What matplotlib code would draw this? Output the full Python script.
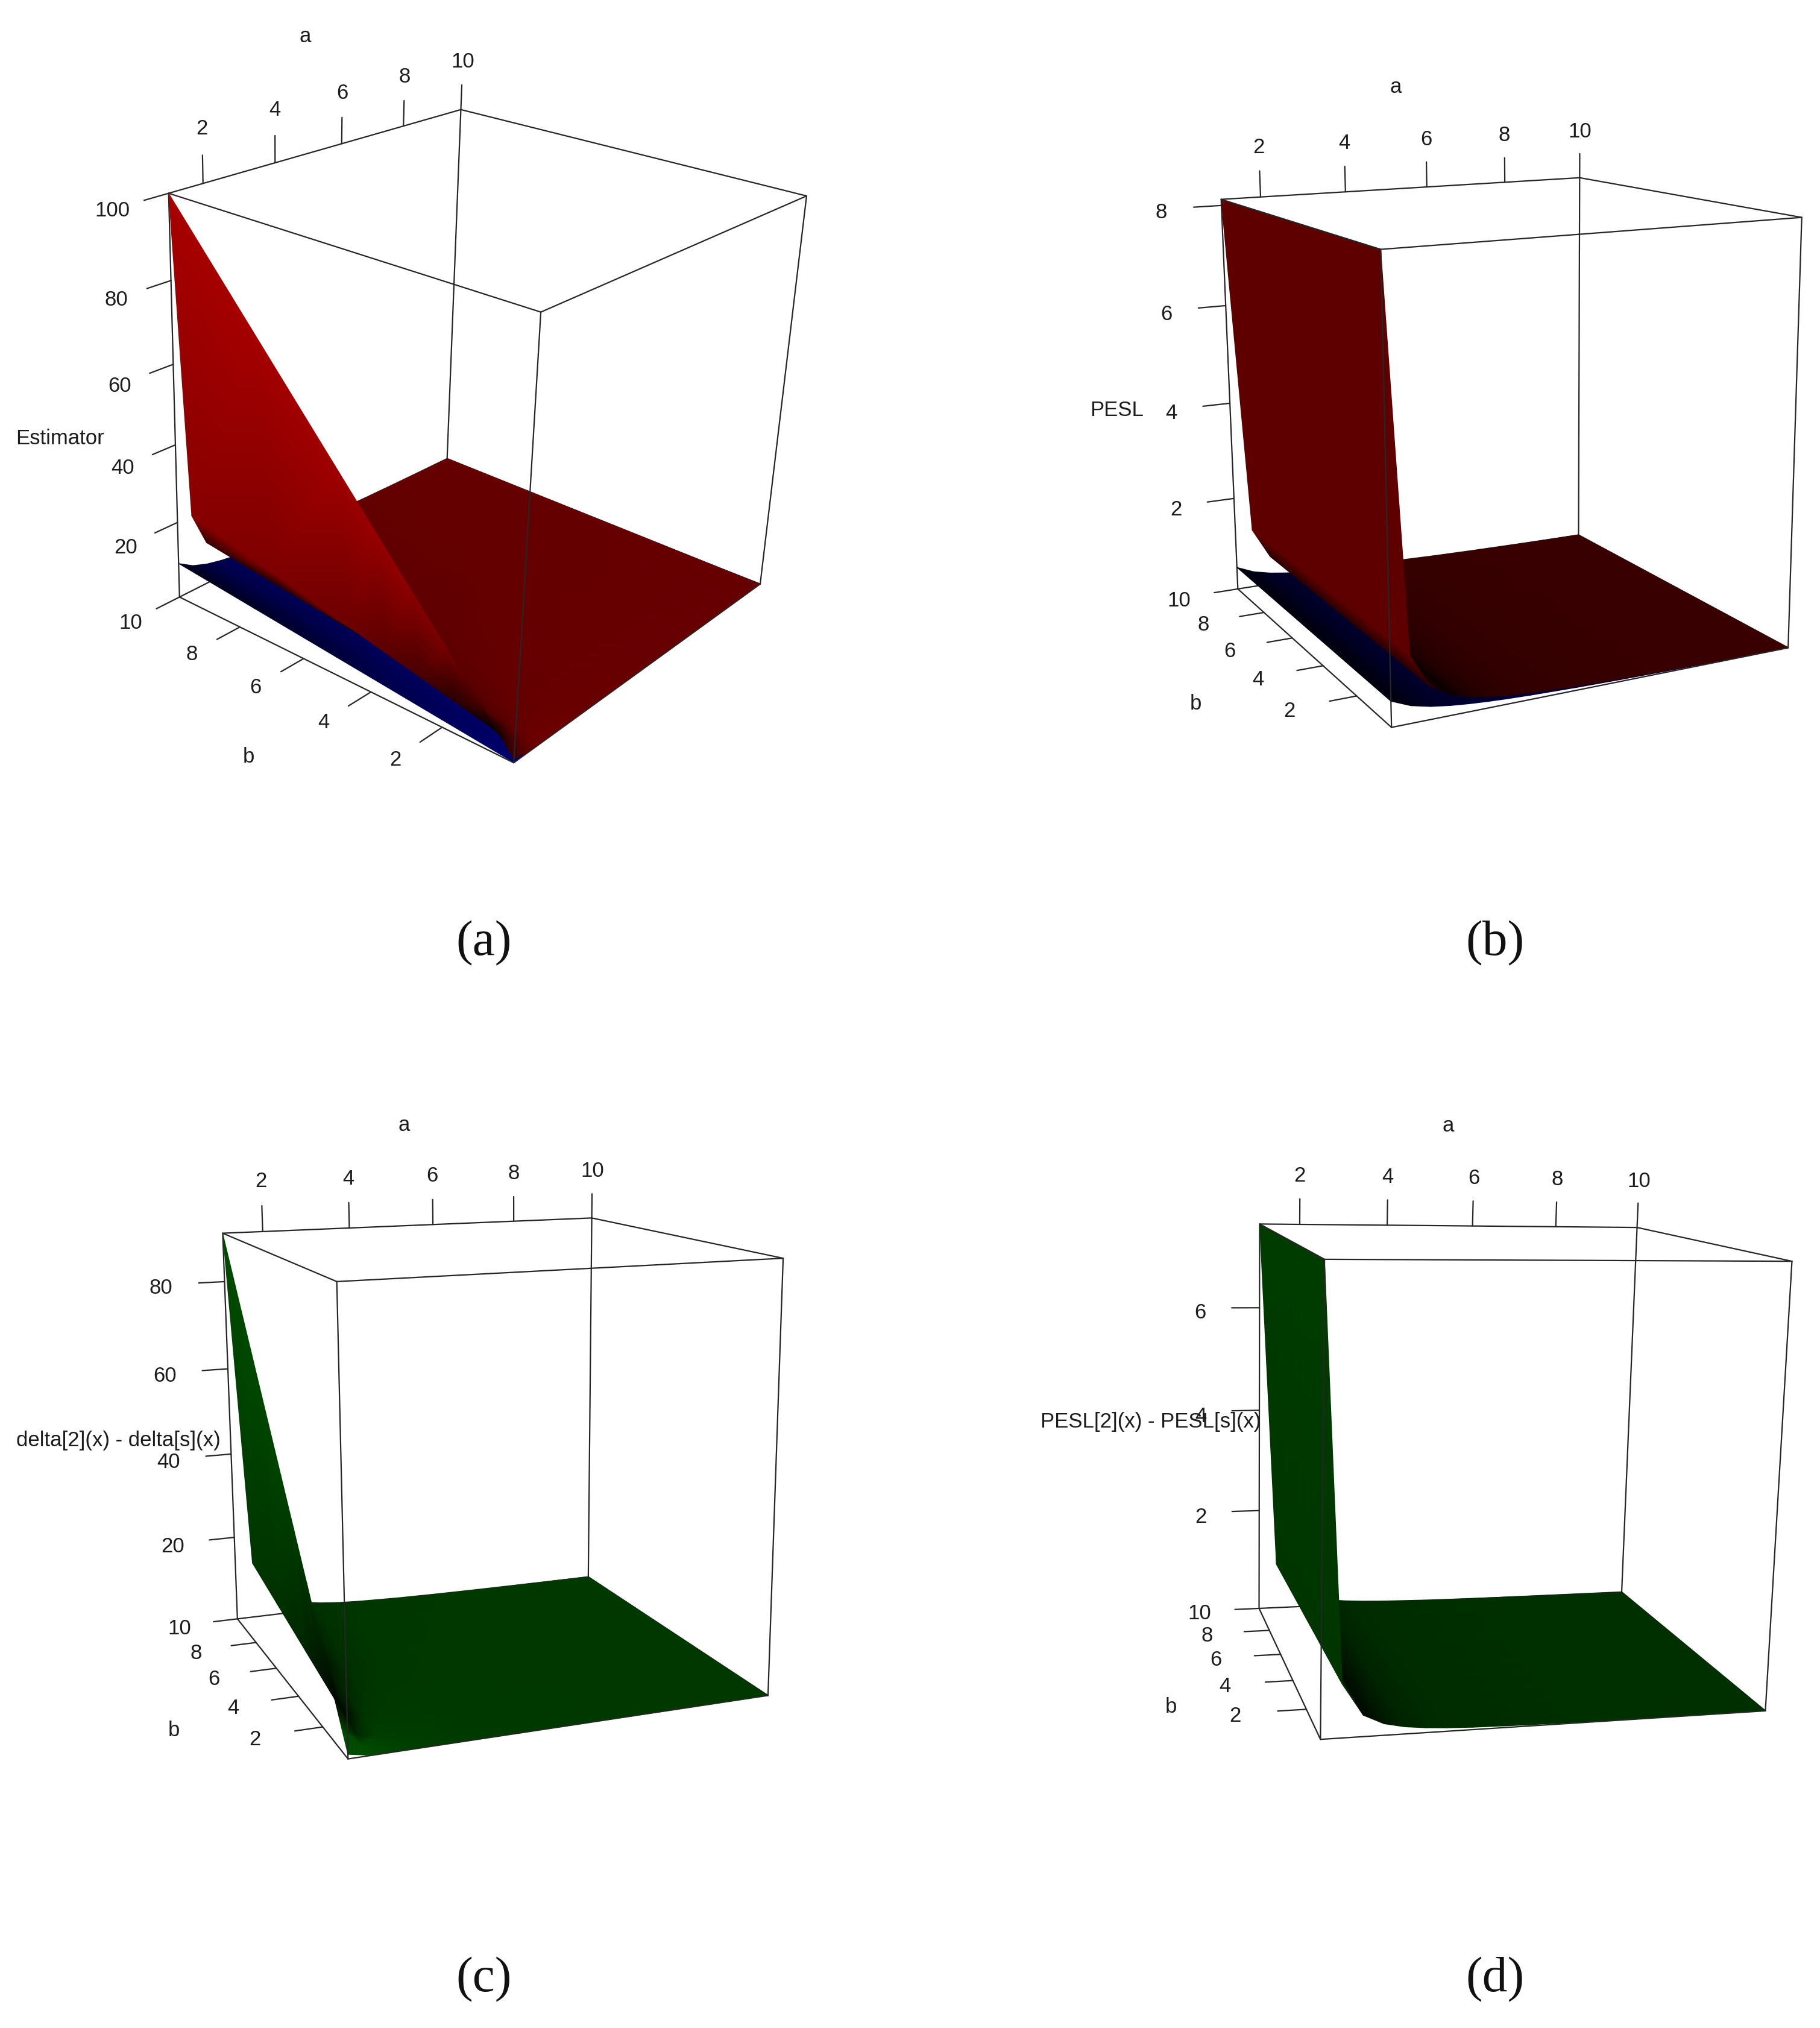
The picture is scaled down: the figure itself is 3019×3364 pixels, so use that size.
import numpy as np
import matplotlib
matplotlib.use("Agg")
import matplotlib.pyplot as plt
from matplotlib.colors import LinearSegmentedColormap
from matplotlib.tri import Triangulation

# ---------- data ----------
a_grid = [1.1, 1.5, 1.9, 2.3, 2.7, 3.1, 3.5, 4, 5, 6, 7, 8, 9, 10]
b_grid = [0.1, 0.5, 1, 2, 3, 4, 5, 7.5, 10]
a_ticks = [2, 4, 6, 8, 10]
b_ticks = [2, 4, 6, 8, 10]

est_red = [[1, 5, 10, 20, 30, 40, 50, 75, 100],
           [.2, 1, 2, 4, 6, 8, 10, 15, 20],
           [.111, .556, 1.11, 2.22, 3.33, 4.44, 5.56, 8.33, 11.11],
           [.077, .385, .769, 1.54, 2.31, 3.08, 3.85, 5.77, 7.69],
           [.059, .294, .588, 1.18, 1.76, 2.35, 2.94, 4.41, 5.88],
           [.048, .238, .476, .952, 1.43, 1.90, 2.38, 3.57, 4.76],
           [.04, .2, .4, .8, 1.2, 1.6, 2, 3, 4],
           [.033, .167, .333, .667, 1, 1.33, 1.67, 2.5, 3.33],
           [.025, .125, .25, .5, .75, 1, 1.25, 1.875, 2.5],
           [.02, .1, .2, .4, .6, .8, 1, 1.5, 2],
           [.017, .083, .167, .333, .5, .667, .833, 1.25, 1.67],
           [.014, .071, .143, .286, .429, .571, .714, 1.07, 1.43],
           [.0125, .0625, .125, .25, .375, .5, .625, .9375, 1.25],
           [.011, .056, .111, .222, .333, .444, .556, .833, 1.11]]
est_blue = [[.091, .455, .909, 1.82, 2.73, 3.64, 4.55, 6.82, 9.09],
            [.067, .333, .667, 1.33, 2, 2.67, 3.33, 5, 6.67],
            [.053, .263, .526, 1.05, 1.58, 2.11, 2.63, 3.95, 5.26],
            [.043, .217, .435, .870, 1.30, 1.74, 2.17, 3.26, 4.35],
            [.037, .185, .370, .741, 1.11, 1.48, 1.85, 2.78, 3.70],
            [.032, .161, .323, .645, .968, 1.29, 1.61, 2.42, 3.23],
            [.029, .143, .286, .571, .857, 1.14, 1.43, 2.14, 2.86],
            [.025, .125, .25, .5, .75, 1, 1.25, 1.875, 2.5],
            [.02, .1, .2, .4, .6, .8, 1, 1.5, 2],
            [.017, .083, .167, .333, .5, .667, .833, 1.25, 1.67],
            [.014, .071, .143, .286, .429, .571, .714, 1.07, 1.43],
            [.0125, .0625, .125, .25, .375, .5, .625, .9375, 1.25],
            [.011, .056, .111, .222, .333, .444, .556, .833, 1.11],
            [.01, .05, .1, .2, .3, .4, .5, .75, 1]]
est_diff = [[.909, 4.55, 9.09, 18.18, 27.27, 36.36, 45.45, 68.18, 90.91],
            [.133, .667, 1.33, 2.67, 4, 5.33, 6.67, 10, 13.33],
            [.058, .292, .585, 1.17, 1.75, 2.34, 2.92, 4.39, 5.85],
            [.033, .167, .334, .669, 1, 1.34, 1.67, 2.51, 3.34],
            [.022, .109, .218, .436, .654, .872, 1.09, 1.63, 2.18],
            [.015, .077, .154, .307, .461, .614, .768, 1.15, 1.54],
            [.011, .057, .114, .229, .343, .457, .571, .857, 1.14],
            [.008, .042, .083, .167, .25, .333, .417, .625, .833],
            [.005, .025, .05, .1, .15, .2, .25, .375, .5],
            [.003, .017, .033, .067, .1, .133, .167, .25, .333],
            [.002, .012, .024, .048, .071, .095, .119, .179, .238],
            [.002, .009, .018, .036, .054, .071, .089, .134, .179],
            [.001, .007, .014, .028, .042, .056, .069, .104, .139],
            [.001, .006, .011, .022, .033, .044, .056, .083, .111]]
pesl_red = [8.12, 1.27, .6495, .4316, .3221, .2566, .2131, .1758, .1302, .1033, .0857, .0731, .0638, .0566]
pesl_blue = [.519, .369, .2857, .2329, .1966, .1697, .1496, .1302, .1033, .0857, .0731, .0638, .0566, .0508]
pesl_diff = [7.60, .90, .364, .199, .1255, .0869, .0635, .0456, .0269, .0176, .0126, .0093, .0072, .0058]

# ---------- layout of each panel (view calibration, not data) ----------
CUBE = [(0, 1, 1), (1, 1, 1), (1, 0, 1), (0, 0, 1), (0, 1, 0), (1, 1, 0), (1, 0, 0), (0, 0, 0)]
panels = [
    dict(key="(a)", org=(0, 0), sc=(1450 / 1568, 1350 / 1568), cap=(803, 1565),
         box=[(302, 372), (827, 212), (1447, 378), (970, 600), (323, 1153), (801, 887), (1364, 1127), (921, 1468)],
         zlim=(0.01, 100), zticks=[20, 40, 60, 80, 100], zlab="Estimator",
         at=(547, 67), bt=(446, 1455), zt=(108, 842), klab=(1.92, 2.08, 2.25), lab_dy=(2, 2),
         tick=(0.064, 0.07, 0.073), blend=0.0, ceil=0.70,
         layers=[(est_blue, -1), (est_red, 1)], cmap=("#0000ff", "#000000", "#ff0000")),
    dict(key="(b)", org=(1700, 50), sc=(1319 / 1568, 1300 / 1568), cap=(2480, 1565),
         box=[(387, 339), (1094, 295), (1532, 375), (702, 438), (420, 1118), (1092, 1010), (1505, 1236), (723, 1395)],
         zlim=(0.0508, 8.12), zticks=[2, 4, 6, 8], zlab="PESL",
         at=(731, 110), bt=(337, 1344), zt=(181, 757), klab=(1.9, 2.46, 2.15), lab_dy=(6, 4),
         tick=(0.064, 0.07, 0.063), blend=0.5, ceil=0.37,
         layers=[(pesl_blue, -1), (pesl_red, 1)], cmap=("#0000ff", "#000000", "#ff0000")),
    dict(key="(c)", org=(0, 1800), sc=(1350 / 1568, 1150 / 1568), cap=(803, 3284),
         box=[(428, 336), (1141, 300), (1508, 392), (650, 443), (458, 1207), (1133, 1112), (1480, 1381), (670, 1524)],
         zlim=(0.001, 90.91), zticks=[20, 40, 60, 80], zlab="delta[2](x) - delta[s](x)",
         at=(778, 86), bt=(335, 1455), zt=(228, 800), klab=(1.93, 2.41, 2.45), lab_dy=(5, 5),
         tick=(0.064, 0.065, 0.063), blend=0.0, ceil=0.30,
         layers=[(est_diff, 1)], cmap=("#000000", "#000000", "#00ff00")),
    dict(key="(d)", org=(1700, 1800), sc=(1319 / 1568, 1150 / 1568), cap=(2480, 3284),
         box=[(462, 315), (1208, 322), (1512, 398), (592, 393), (462, 1183), (1177, 1146), (1460, 1416), (583, 1480)],
         zlim=(0.0058, 7.60), zticks=[2, 4, 6], zlab="PESL[2](x) - PESL[s](x)",
         at=(835, 88), bt=(288, 1403), zt=(248, 758), klab=(1.9, 2.46, 2.13), lab_dy=(8, 4),
         tick=(0.064, 0.07, 0.063), blend=0.5, ceil=0.235,
         layers=[(pesl_diff, 1)], cmap=("#000000", "#000000", "#00ff00")),
]
LIGHT_GAIN = 0.97
FS = 25
TXT = "#1c1c1c"
LINE = "#262626"

plt.rcParams["font.family"] = ["Liberation Sans", "DejaVu Sans"]
fig = plt.figure(figsize=(30.19, 33.64), dpi=100, facecolor="white")
ax = fig.add_axes([0, 0, 1, 1])
ax.set_xlim(0, 3019)
ax.set_ylim(3364, 0)
ax.axis("off")

A = np.array(a_grid, float)
B = np.array(b_grid, float)


def fit_view(world, image):
    rows = []
    for (X, Y, Z), (x, y) in zip(world, image):
        h = [X, Y, Z, 1]
        rows.append(h + [0, 0, 0, 0] + [-x * c for c in h])
        rows.append([0, 0, 0, 0] + h + [-y * c for c in h])
    return np.linalg.svd(np.array(rows, float))[2][-1].reshape(3, 4)


def vertex_normals(U, V, W):
    """Average of the unit normals of the cells that meet at each vertex."""
    G = np.stack([U, V, W], axis=-1)
    d1 = G[1:, 1:] - G[:-1, :-1]
    d2 = G[:-1, 1:] - G[1:, :-1]
    f = np.cross(d2, d1)
    f *= np.sign(f[..., 2:3]) + (f[..., 2:3] == 0)
    f /= np.linalg.norm(f, axis=-1, keepdims=True)
    n = np.zeros_like(G)
    n[:-1, :-1] += f
    n[1:, :-1] += f
    n[:-1, 1:] += f
    n[1:, 1:] += f
    return n / np.linalg.norm(n, axis=-1, keepdims=True)


def gradient_normals(U, V, W):
    du = np.gradient(W, U[:, 0], axis=0)
    dv = np.gradient(W, V[0, :], axis=1)
    n = np.stack([-du, -dv, np.ones_like(W)], axis=-1)
    return n / np.linalg.norm(n, axis=-1, keepdims=True)


for p in panels:
    org = np.array(p["org"], float)
    sc = np.array(p["sc"], float)
    to_px = lambda q: org + sc * np.array(q, float)
    P = fit_view(CUBE, [tuple(to_px(q)) for q in p["box"]])
    centre = np.linalg.svd(P)[2][-1]
    centre = centre[:3] / centre[3]
    light = centre - 0.5
    light /= np.linalg.norm(light)
    z0, z1 = p["zlim"]
    nu = lambda a: (np.asarray(a, float) - A[0]) / (A[-1] - A[0])
    nv = lambda b: (np.asarray(b, float) - B[0]) / (B[-1] - B[0])
    nw = lambda z: (np.asarray(z, float) - z0) / (z1 - z0)

    def proj(u, v, w):
        u, v, w = np.broadcast_arrays(np.asarray(u, float), np.asarray(v, float), np.asarray(w, float))
        h = np.stack([u, v, w, np.ones_like(u)], axis=-1) @ P.T
        return h[..., 0] / h[..., 2], h[..., 1] / h[..., 2]

    def seg(s, e, lw=1.6, z=2, color=LINE):
        xs, ys = proj(np.array([s[0], e[0]]), np.array([s[1], e[1]]), np.array([s[2], e[2]]))
        ax.plot(xs, ys, color=color, lw=lw, zorder=z, solid_capstyle="round")

    # ---- surfaces ----
    xs, ys, cs = [], [], []
    tris = []
    na, nb = len(A), len(B)
    starts = []
    U, V = np.meshgrid(nu(A), nv(B), indexing="ij")
    for vals, sign in p["layers"]:
        Z = np.asarray(vals, float)
        if Z.ndim == 1:
            Z = np.tile(Z[:, None], (1, nb))
        W = nw(Z)
        t = p["blend"]
        n = (1 - t) * vertex_normals(U, V, W) + t * gradient_normals(U, V, W)
        n /= np.linalg.norm(n, axis=-1, keepdims=True)
        I = np.minimum(np.abs(n @ light) * LIGHT_GAIN, p["ceil"])
        x, y = proj(U, V, W)
        starts.append(sum(len(c) for c in cs))
        xs.append(x.ravel())
        ys.append(y.ravel())
        cs.append((sign * I).ravel())
    for i in range(na - 2, -1, -1):
        for s in starts:
            for j in range(nb - 2, -1, -1):
                q00 = s + i * nb + j
                q01 = q00 + 1
                q10 = q00 + nb
                q11 = q10 + 1
                tris.append((q00, q10, q11))
                tris.append((q00, q11, q01))
    tri = Triangulation(np.concatenate(xs), np.concatenate(ys), np.array(tris))
    cmap = LinearSegmentedColormap.from_list("m", p["cmap"], N=1024)
    ax.tripcolor(tri, np.concatenate(cs), shading="gouraud", cmap=cmap, vmin=-1, vmax=1, zorder=1.5)

    # ---- box ----
    for s, e in [((1, 1, 0), (1, 1, 1)), ((0, 1, 0), (1, 1, 0)), ((1, 1, 0), (1, 0, 0)), ((0, 1, 0), (0, 1, 1))]:
        seg(s, e, z=1)
    for s, e in [((0, 1, 1), (1, 1, 1)), ((1, 1, 1), (1, 0, 1)), ((1, 0, 1), (0, 0, 1)), ((0, 0, 1), (0, 1, 1)),
                 ((1, 0, 0), (1, 0, 1)), ((0, 1, 0), (0, 0, 0)), ((0, 0, 0), (1, 0, 0)), ((0, 0, 0), (0, 0, 1))]:
        seg(s, e, z=2)

    # ---- ticks and labels ----
    ka, kb, kz = p["klab"]
    ta, tz, tb = p["tick"]
    dz, db = p["lab_dy"]
    tick_kw = dict(ha="center", va="center", fontsize=FS, color=TXT, zorder=3)
    for t in a_ticks:
        u = nu(t)
        seg((u, 1, 1), (u, 1, 1 + ta), z=1)
        lx, ly = proj(u, 1, 1 + ta * ka)
        ax.text(lx, ly, str(t), **tick_kw)
    for t in p["zticks"]:
        w = nw(t)
        seg((0, 1, w), (-tz, 1, w), z=1)
        lx, ly = proj(-tz * kz, 1, w)
        ax.text(lx, ly + dz, str(t), **tick_kw)
    for t in b_ticks:
        v = nv(t)
        seg((0, v, 0), (-tb, v, 0), z=1)
        lx, ly = proj(-tb * kb, v, 0)
        ax.text(lx, ly + db, str(t), **tick_kw)

    # ---- axis titles and caption ----
    for pos, label in ((p["at"], "a"), (p["bt"], "b"), (p["zt"], p["zlab"])):
        tx, ty = to_px(pos)
        ax.text(tx, ty + 3, label, **tick_kw)
    ax.text(*p["cap"], p["key"], ha="center", va="center", fontsize=60, color="#111111",
            family=["Liberation Serif", "DejaVu Serif"], zorder=3)

fig.savefig("out.png", dpi=100, facecolor="white")
